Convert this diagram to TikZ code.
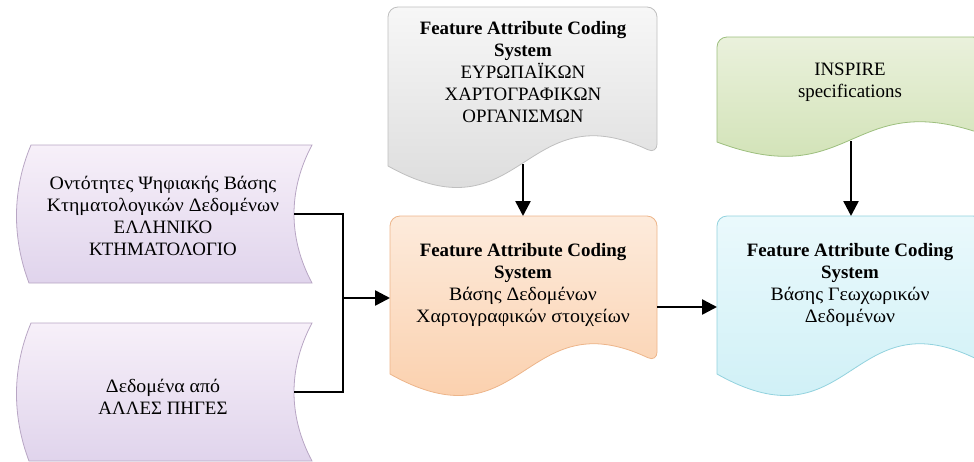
\documentclass[tikz,border=0pt]{standalone}
\usepackage{fontspec}
\setmainfont{Liberation Serif}
\newfontfamily\grk[FakeStretch=1.05]{Liberation Serif}
\usetikzlibrary{arrows.meta}
\definecolor{lavtop}{HTML}{F7F0F9}
\definecolor{lavbot}{HTML}{E0D4EC}
\definecolor{lavline}{HTML}{B8A6C4}
\definecolor{graytop}{HTML}{F7F7F7}
\definecolor{graybot}{HTML}{D6D6D6}
\definecolor{grayline}{HTML}{BFBFBF}
\definecolor{orgtop}{HTML}{FDEBDC}
\definecolor{orgbot}{HTML}{FAC9A1}
\definecolor{orgline}{HTML}{EDB58A}
\definecolor{cyntop}{HTML}{EAF9FC}
\definecolor{cynbot}{HTML}{C9EEF5}
\definecolor{cynline}{HTML}{92D2DE}
\definecolor{grntop}{HTML}{EAF1DC}
\definecolor{grnbot}{HTML}{CCDFAE}
\definecolor{grnline}{HTML}{9DBF7E}
\begin{document}
\begin{tikzpicture}[x=1pt,y=-1pt,
  txt/.style={align=center, font=\fontsize{18.9}{21.8}\selectfont, inner sep=0pt},
  conn/.style={line width=2.5pt, black},
  arr/.style={conn, -{Triangle[length=15pt,width=15pt]}},
  shp/.style={line width=0.8pt},
  lav/.style={shp, draw=lavline, top color=lavtop, bottom color=lavbot},
  gry/.style={shp, draw=grayline, top color=graytop, bottom color=graybot},
  org/.style={shp, draw=orgline, top color=orgtop, bottom color=orgbot},
  cyn/.style={shp, draw=cynline, top color=cyntop, bottom color=cynbot},
  grn/.style={shp, draw=grnline, top color=grntop, bottom color=grnbot}]
\useasboundingbox (0,0) rectangle (974,461);
\begin{scope}
\clip (0,0) rectangle (974,461);
% left tape shapes
\path[lav] (31,145) -- (312,145) .. controls (288,190) and (288,238) .. (312,283)
  -- (29,283) .. controls (12,238) and (12,190) .. (31,145) -- cycle;
\path[lav] (31,323) -- (312,323) .. controls (288,368) and (288,416) .. (312,461)
  -- (29,461) .. controls (12,416) and (12,368) .. (31,323) -- cycle;
% gray document
\path[gry] (388,166) [rounded corners=10pt] -- (388,7) -- (657,7) -- (657,154) [sharp corners]
  .. controls (522.5,91) and (522.5,241) .. (388,166) -- cycle;
% orange document
\path[org] (390,374) [rounded corners=10pt] -- (390,216) -- (657,216) -- (657,362) [sharp corners]
  .. controls (523.5,299) and (523.5,449) .. (390,374) -- cycle;
% green document
\path[grn] (717,142) [rounded corners=10pt] -- (717,37) -- (983,37) -- (983,134) [sharp corners]
  .. controls (850,92) and (850,192) .. (717,142) -- cycle;
% cyan document
\path[cyn] (717,374) [rounded corners=10pt] -- (717,216) -- (983,216) -- (983,362) [sharp corners]
  .. controls (850,299) and (850,449) .. (717,374) -- cycle;
\end{scope}

% texts
\node[txt] (tL1) at (163,216) {{\grk Οντότητες Ψηφιακής Βάσης}\\{\grk Κτηματολογικών Δεδομένων}\\ΕΛΛΗΝΙΚΟ\\ΚΤΗΜΑΤΟΛΟΓΙΟ};
\node[txt] (tL2) at (163,397) {{\grk Δεδομένα από}\\ΑΛΛΕΣ ΠΗΓΕΣ};
\node[txt] (tG) at (523,72) {\textbf{Feature Attribute Coding}\\\textbf{System}\\ΕΥΡΩΠΑΪΚΩΝ\\ΧΑΡΤΟΓΡΑΦΙΚΩΝ\\ΟΡΓΑΝΙΣΜΩΝ};
\node[txt] (tO) at (523,285) {\textbf{Feature Attribute Coding}\\\textbf{System}\\{\grk Βάσης Δεδομένων}\\{\grk Χαρτογραφικών στοιχείων}};
\node[txt] (tGr) at (850,82) {INSPIRE\\specifications};
\node[txt] (tC) at (850,285) {\textbf{Feature Attribute Coding}\\\textbf{System}\\{\grk Βάσης Γεωχωρικών}\\{\grk Δεδομένων}};

% connector end points
\coordinate (L1out) at (294,214);
\coordinate (L2out) at (294,392);
\coordinate (J) at (343,298);
\coordinate (Oin) at (390,298);
\coordinate (Gout) at (523,164);
\coordinate (Otop) at (523,216);
\coordinate (Oout) at (657,307);
\coordinate (Cin) at (717,307);
\coordinate (Grout) at (851,141);
\coordinate (Ctop) at (851,216);

\draw[conn] (L1out) -| (J) |- (L2out);
\draw[arr] (J) -- (Oin);
\draw[arr] (Gout) -- (Otop);
\draw[arr] (Oout) -- (Cin);
\draw[arr] (Grout) -- (Ctop);
\end{tikzpicture}
\end{document}
